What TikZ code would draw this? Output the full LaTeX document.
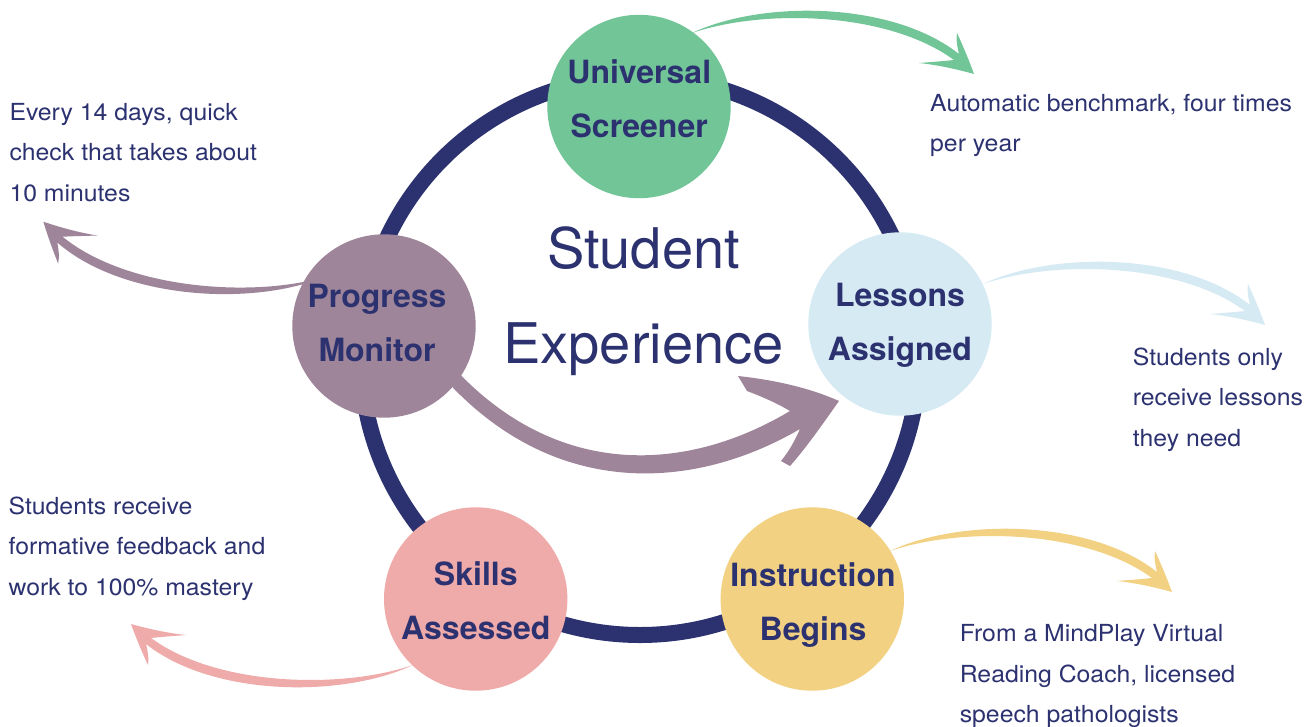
\documentclass[tikz,border=0pt]{standalone}
\usepackage{fontspec}
\setmainfont{TeX Gyre Heros}
\newfontfamily\bodyfont{TeX Gyre Heros}[FakeStretch=1.055]
\definecolor{navy}{RGB}{44,50,112}
\definecolor{cgreen}{RGB}{113,197,151}
\definecolor{cblue}{RGB}{214,234,243}
\definecolor{cyellow}{RGB}{242,210,130}
\definecolor{cpink}{RGB}{239,170,170}
\definecolor{cmauve}{RGB}{159,133,153}
\tikzset{
  circ/.style={circle, minimum size=183.4pt, inner sep=0pt, draw=none},
  lbl/.style={font=\fontsize{32}{54.5}\selectfont\bfseries, text=navy, align=center, inner sep=0pt},
  note/.style={font=\bodyfont\fontsize{23.5}{40.5}\selectfont, text=navy, align=left, inner sep=0pt, anchor=north west},
  titlestyle/.style={font=\fontsize{56}{95}\selectfont, text=navy, align=center, inner sep=0pt},
  brush/.pic={
    \path[pic actions] (0,0) .. controls (70,-33) and (200,-32) .. (267,21)
      .. controls (265,13) and (264,7) .. (265,0)
      .. controls (272,15) and (278,30) .. (282,41)
      .. controls (264,36) and (246,32) .. (227,30)
      .. controls (240,29) and (253,28) .. (262,27)
      .. controls (195,-22) and (70,-24) .. (0,0) -- cycle;
  }
}
\begin{document}
\begin{tikzpicture}[x=1pt,y=-1pt]
\useasboundingbox (0,0) rectangle (1312,726);
\fill[white] (0,0) rectangle (1312,726);
% ring
\coordinate (rc) at (640,356);
\draw[navy, line width=16pt] (rc) circle[radius=279];
% central arrow
\fill[cmauve] (453,367) .. controls (558,481) and (688,472) .. (790,411)
  .. controls (775,402) and (760,396) .. (747,391)
  -- (738,376)
  .. controls (775,380) and (810,388) .. (839,401)
  .. controls (822,425) and (806,448) .. (790,466)
  -- (781,461)
  .. controls (790,450) and (795,440) .. (800,429)
  .. controls (692,492) and (552,499) .. (443,377) -- cycle;
% outer arrows
\coordinate (gS) at (692,33);
\coordinate (bS) at (983,284);
\coordinate (yS) at (890,551);
\coordinate (mS) at (322.8,277.4);
\coordinate (pS) at (413,665);
\pic[fill=cgreen] at (gS) {brush};
\pic[fill=cblue] at (bS) {brush};
\pic[fill=cyellow] at (yS) {brush};
\pic[fill=cmauve, rotate=177] at (mS) {brush};
\pic[fill=cpink, rotate=180] at (pS) {brush};
% circles
\node[circ, fill=cgreen] (us) at (639,106.5) {};
\node[circ, fill=cmauve] (pm) at (384,326) {};
\node[circ, fill=cblue] (la) at (900,324) {};
\node[circ, fill=cpink] (sa) at (475.7,599) {};
\node[circ, fill=cyellow] (ib) at (812.3,599) {};
% labels
\node[lbl] (usl) at (639.2,110.5) {\smash{Universal}\\\smash{Screener}};
\node[lbl] (pml) at (377,334.5) {\smash{Progress}\\\smash{Monitor}};
\node[lbl] (lal) at (900,333.4) {\smash{Lessons}\\\smash{Assigned}};
\node[lbl] (sal) at (475.8,612.5) {\smash{Skills}\\\smash{Assessed}};
\node[lbl] (ibl) at (813,613.3) {\smash{Instruction}\\\smash{Begins}};
\node[titlestyle] (title) at (643.5,315.5) {\smash{Student}\\\smash{Experience}};
% notes
\node[note] (tPM) at (9.3,120) {\smash{Every 14 days, quick}\\\smash{check that takes about}\\\smash{10 minutes}};
\node[note] (tUS) at (930,111) {\smash{Automatic benchmark, four times}\\\smash{per year}};
\node[note] (tLA) at (1132.7,365) {\smash{Students only}\\\smash{receive lessons}\\\smash{they need}};
\node[note] (tSA) at (8.4,514) {\smash{Students receive}\\\smash{formative feedback and}\\\smash{work to 100\% mastery}};
\node[note] (tIB) at (959.6,641.7) {\smash{From a MindPlay Virtual}\\\smash{Reading Coach, licensed}\\\smash{speech pathologists}};
\end{tikzpicture}
\end{document}
